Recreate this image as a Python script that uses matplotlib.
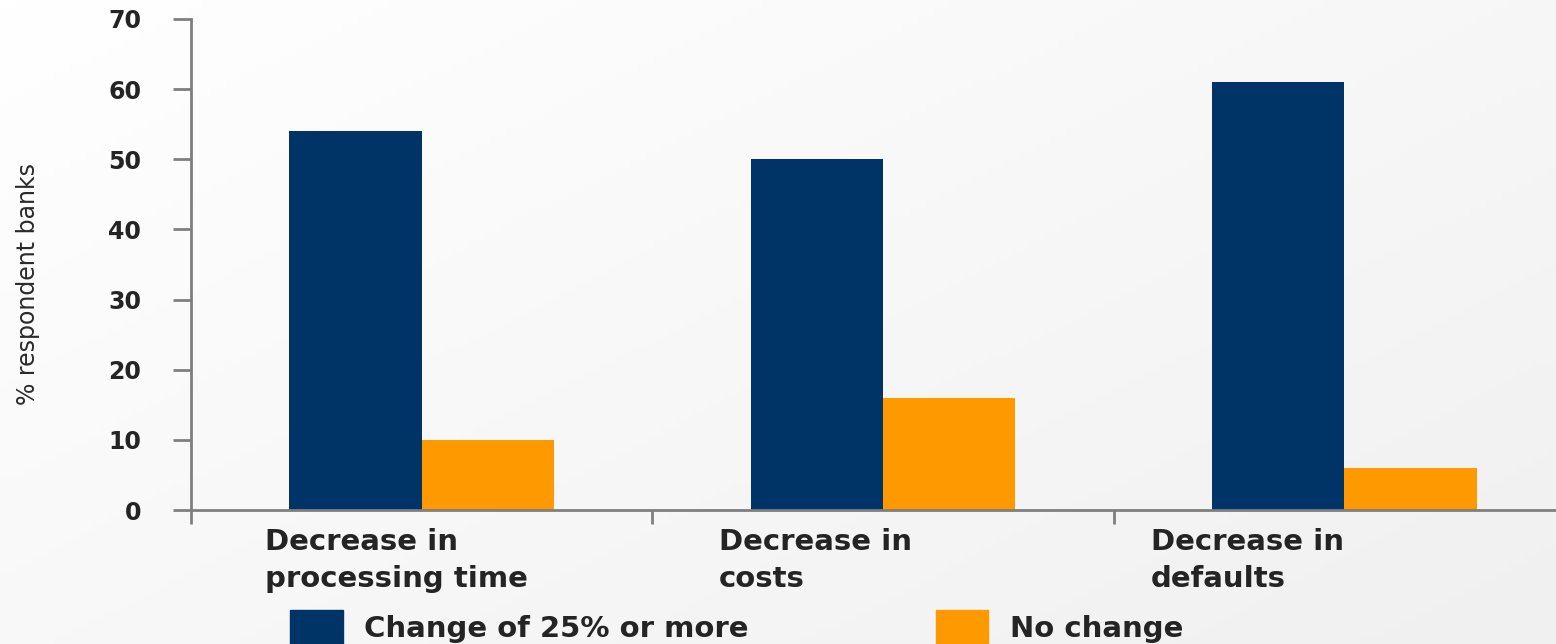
import numpy as np
import matplotlib.pyplot as plt
from matplotlib.patches import Patch
from matplotlib.colors import LinearSegmentedColormap

categories = ["Decrease in\nprocessing time", "Decrease in\ncosts", "Decrease in\ndefaults"]
change_25 = [54, 50, 61]
no_change = [10, 16, 6]
series_names = ["Change of 25% or more", "No change"]
yticks = [0, 10, 20, 30, 40, 50, 60, 70]

navy = "#003366"
orange = "#ff9900"
axis_gray = "#7f7f7f"
text_col = "#242424"

W, H = 1556, 644
fig = plt.figure(figsize=(W / 100, H / 100), dpi=100)

# faint gray wash, whiter top-left, greyer bottom-right
wash = LinearSegmentedColormap.from_list("wash", ["#ffffff", "#f0f0f0"])
bg = fig.add_axes([0, 0, 1, 1], zorder=-10)
gx, gy = np.meshgrid(np.linspace(0, 1, 200), np.linspace(0, 1, 80))
bg.imshow(0.55 * gx + 0.45 * gy, cmap=wash, vmin=0, vmax=1, aspect="auto",
          extent=[0, 1, 0, 1], origin="upper")
bg.axis("off")

# axes runs a bit past the right edge, like the original crop
ax = fig.add_axes([191 / W, 1 - 510 / H, (1575 - 191) / W, (510 - 19) / H])
ax.set_facecolor("none")

x = np.arange(len(categories))
bw = 0.287
ax.bar(x - bw / 2, change_25, bw, color=navy, label=series_names[0])
ax.bar(x + bw / 2, no_change, bw, color=orange, label=series_names[1])

ax.set_xlim(-0.5, len(categories) - 0.5)
ax.set_ylim(0, 70)
ax.set_yticks(yticks)
ax.set_yticklabels([str(v) for v in yticks], fontsize=17, fontweight="bold",
                   color=text_col)
ax.tick_params(axis="y", direction="out", length=13, width=2, color=axis_gray, pad=23)

ax.set_xticks(np.arange(-0.5, len(categories)))
ax.set_xticklabels([])
ax.tick_params(axis="x", direction="out", length=10, width=2, color=axis_gray)

for s in ["top", "right"]:
    ax.spines[s].set_visible(False)
for s in ["left", "bottom"]:
    ax.spines[s].set_color(axis_gray)
    ax.spines[s].set_linewidth(2)

# category labels, left aligned under each group
label_dx = [-0.34, -0.356, -0.419]
for i, lab in enumerate(categories):
    ax.text(i + label_dx[i], -2.6, lab, ha="left", va="top", fontsize=21,
            fontweight="bold", color=text_col, linespacing=1.4)

fig.text(28 / W, 1 - 284 / H, "% respondent banks", rotation=90, ha="center",
         va="center", fontsize=17, color="#2a2a2a")

handles = [Patch(color=navy), Patch(color=orange)]
fig.legend(handles, series_names, loc="upper left",
           bbox_to_anchor=(290 / W, 1 - 610 / H), ncol=2, frameon=False,
           borderpad=0, borderaxespad=0,
           handlelength=1.8, handleheight=1.45, handletextpad=0.75,
           columnspacing=6.4, prop={"size": 21, "weight": "bold"},
           labelcolor=text_col)

fig.savefig("out.png", dpi=100)
